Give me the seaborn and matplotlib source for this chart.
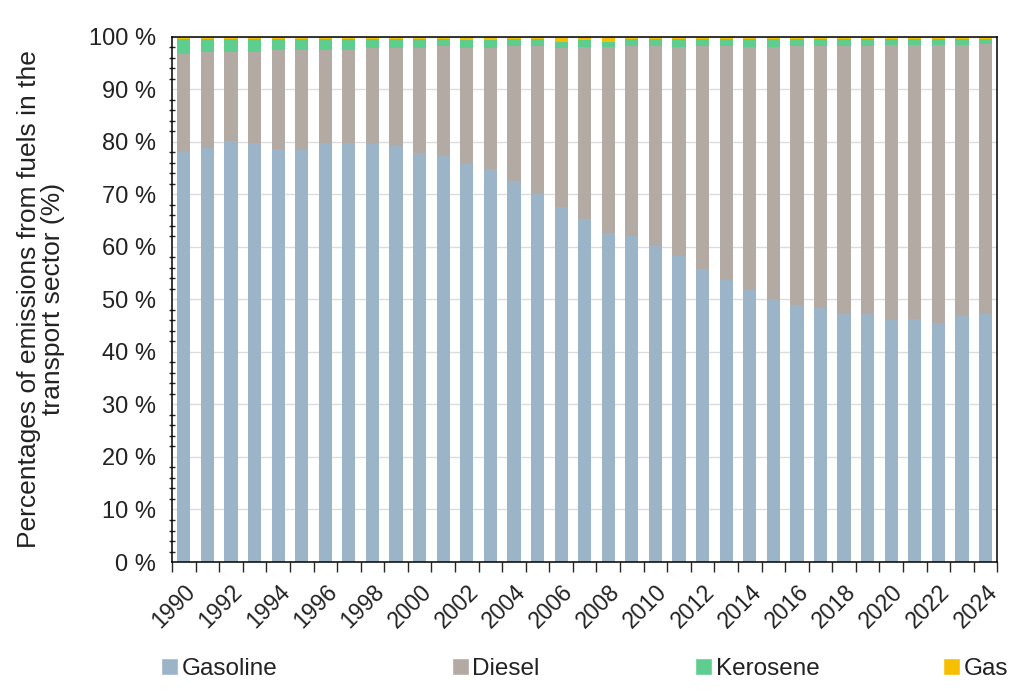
import pandas as pd
import matplotlib.pyplot as plt
import seaborn as sns
import numpy as np
from matplotlib.patches import Patch

# shares of transport emissions by fuel (%)
years = list(range(1990, 2025))
gasoline = [78.0, 78.9, 80.1, 79.8, 78.7, 78.4, 79.8, 79.8, 79.5, 79.2,
            77.9, 77.2, 75.8, 74.8, 72.5, 70.0, 67.5, 65.3, 62.7, 62.0,
            60.2, 58.2, 55.8, 53.7, 51.8, 50.0, 48.9, 48.4, 47.3, 47.3,
            46.0, 46.3, 45.5, 46.9, 47.3]
diesel = [18.7, 18.1, 16.9, 17.2, 18.8, 19.1, 17.7, 17.7, 18.4, 18.7,
          20.0, 21.1, 22.1, 23.1, 25.8, 28.3, 30.4, 32.7, 35.3, 36.3,
          38.1, 39.8, 42.5, 44.6, 46.2, 48.0, 49.4, 49.9, 51.0, 51.0,
          52.5, 52.2, 53.0, 51.6, 51.3]
kerosene = [2.9, 2.6, 2.6, 2.6, 2.1, 2.1, 2.1, 2.1, 1.7, 1.7,
            1.7, 1.3, 1.5, 1.5, 1.2, 1.2, 1.1, 1.4, 1.0, 1.3,
            1.2, 1.6, 1.3, 1.3, 1.6, 1.6, 1.3, 1.3, 1.3, 1.3,
            1.1, 1.1, 1.1, 1.1, 1.0]
gas = [0.4, 0.4, 0.4, 0.4, 0.4, 0.4, 0.4, 0.4, 0.4, 0.4,
       0.4, 0.4, 0.6, 0.6, 0.5, 0.5, 1.0, 0.6, 1.0, 0.4,
       0.5, 0.4, 0.4, 0.4, 0.4, 0.4, 0.4, 0.4, 0.4, 0.4,
       0.4, 0.4, 0.4, 0.4, 0.4]

fuels = ['Gasoline', 'Diesel', 'Kerosene', 'Gas']
colors = ['#9bb4c8', '#b3aaa4', '#5dce8e', '#f6bf00']

df = pd.DataFrame({'Year': [str(y) for y in years], 'Gasoline': gasoline,
                   'Diesel': diesel, 'Kerosene': kerosene, 'Gas': gas})
# cumulative tops so the layered bars look stacked
tops = df[fuels].cumsum(axis=1)

sns.set_style('white')
plt.rcParams['font.family'] = ['Liberation Sans', 'DejaVu Sans']
text_col = '#222222'

fig, ax = plt.subplots(figsize=(10.24, 6.93), dpi=100)
fig.subplots_adjust(left=0.168, right=0.974, bottom=0.189, top=0.947)

for fuel, color in reversed(list(zip(fuels, colors))):
    sns.barplot(x=df['Year'], y=tops[fuel], color=color, saturation=1,
                width=0.56, errorbar=None, linewidth=0, ax=ax, zorder=2)

ax.set_xlim(-0.5, len(years) - 0.5)
ax.set_ylim(0, 100)
ax.set_axisbelow(True)
ax.yaxis.grid(True, color='#dcdcdc', lw=1)
for s in ax.spines.values():
    s.set_color('black')
    s.set_linewidth(1.1)

# y axis
ax.set_yticks(range(0, 101, 10))
ax.set_yticklabels([f'{v} %' for v in range(0, 101, 10)])
ax.set_yticks(range(0, 101, 2), minor=True)
ax.tick_params(axis='y', which='major', direction='inout', length=9, width=1,
               labelsize=17, labelcolor=text_col, pad=7)
ax.tick_params(axis='y', which='minor', direction='inout', length=5, width=1, left=True)
ax.set_ylabel('Percentages of emissions from fuels in the\ntransport sector (%)',
              fontsize=19, color=text_col, labelpad=17, linespacing=1.0)

# x axis: labels every other year, tick marks between bars
ax.set_xticks(range(0, len(years), 2))
ax.set_xticklabels([str(y) for y in years[::2]], rotation=45, ha='right',
                   rotation_mode='anchor')
ax.set_xticks(np.arange(-0.5, len(years), 1), minor=True)
ax.tick_params(axis='x', which='major', length=0, labelsize=16.5,
               labelcolor=text_col, pad=13)
ax.tick_params(axis='x', which='minor', direction='out', length=7, width=1, bottom=True)
ax.set_xlabel('')

# legend entries spread along the bottom like the original
legend_x = [0.157, 0.441, 0.679, 0.921]
for fuel, color, lx in zip(fuels, colors, legend_x):
    fig.legend(handles=[Patch(facecolor=color, label=fuel)], loc='center left',
               bbox_to_anchor=(lx, 0.035), frameon=False, handlelength=0.7,
               handleheight=0.7, handletextpad=0.15, borderaxespad=0, borderpad=0,
               fontsize=17.5, labelcolor=text_col)

plt.savefig('out.png', dpi=100)
